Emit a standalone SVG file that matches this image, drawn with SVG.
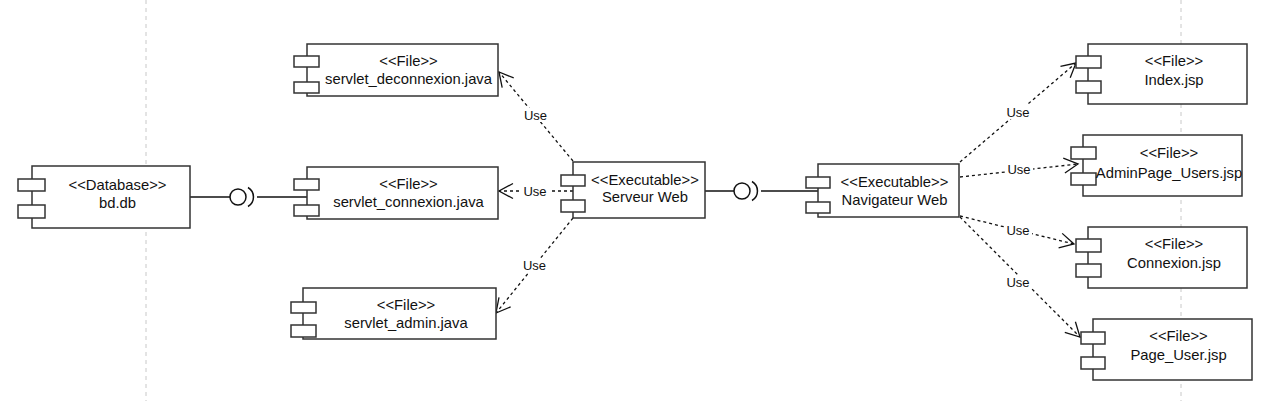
<svg xmlns="http://www.w3.org/2000/svg" width="1280" height="401" viewBox="0 0 1280 401">
<style>
.body{fill:#fff;stroke:#333;stroke-width:1.5}
.port{fill:#fff;stroke:#333;stroke-width:1.5}
.t{font-family:"Liberation Sans",Arial,sans-serif;font-size:14.8px;fill:#111;text-anchor:middle}
.lbl{font-family:"Liberation Sans",Arial,sans-serif;font-size:13px;fill:#111;text-anchor:middle}
.lblbg{fill:#fff}
.dep{fill:none;stroke:#111;stroke-width:1.3;stroke-dasharray:3,3;marker-end:url(#open)}
.solid{fill:none;stroke:#111;stroke-width:1.5}
.guide{stroke:#c8c8c8;stroke-width:1;stroke-dasharray:4,4}
</style>
<defs>
<marker id="open" viewBox="-16 -10 20 20" refX="0" refY="0" markerWidth="20" markerHeight="20" orient="auto" markerUnits="userSpaceOnUse">
<path d="M-14,-7.5 L0,0 L-14,7.5" fill="none" stroke="#111" stroke-width="1.3" stroke-dasharray="none"/>
</marker>
</defs>
<rect width="1280" height="401" fill="#fff"/>
<g id="guides">
<line class="guide" x1="146" y1="0" x2="146" y2="401"/>
<line class="guide" x1="1181" y1="0" x2="1181" y2="401"/>
</g>
<g id="connectors">
<line class="solid" x1="190" y1="197" x2="230" y2="197"/>
<circle class="solid" cx="238" cy="197" r="8"/>
<path class="solid" d="M248,187.5 A11 11 0 0 1 248,206.5"/>
<line class="solid" x1="257" y1="197" x2="307" y2="197"/>
<line class="solid" x1="705" y1="191" x2="734" y2="191"/>
<circle class="solid" cx="742" cy="191" r="8"/>
<path class="solid" d="M752,181.5 A11 11 0 0 1 752,200.5"/>
<line class="solid" x1="761" y1="191" x2="818" y2="191"/>
<line class="dep" x1="573" y1="161" x2="499" y2="72"/>
<line class="dep" x1="573" y1="191" x2="499" y2="191"/>
<line class="dep" x1="573" y1="218" x2="496" y2="313"/>
<line class="dep" x1="960" y1="162" x2="1076" y2="63"/>
<line class="dep" x1="960" y1="177" x2="1078" y2="164"/>
<line class="dep" x1="960" y1="216" x2="1074" y2="244"/>
<line class="dep" x1="960" y1="217" x2="1080" y2="337"/>
<rect class="lblbg" x="522" y="108" width="27" height="14"/>
<text class="lbl" x="535.5" y="120">Use</text>
<rect class="lblbg" x="521" y="184" width="28" height="14"/>
<text class="lbl" x="535" y="196">Use</text>
<rect class="lblbg" x="521" y="258" width="27" height="14"/>
<text class="lbl" x="534.5" y="270">Use</text>
<rect class="lblbg" x="1005" y="105" width="27" height="14"/>
<text class="lbl" x="1018" y="117">Use</text>
<rect class="lblbg" x="1006" y="162" width="27" height="14"/>
<text class="lbl" x="1019" y="174">Use</text>
<rect class="lblbg" x="1005" y="223" width="27" height="14"/>
<text class="lbl" x="1018" y="235">Use</text>
<rect class="lblbg" x="1005" y="276" width="27" height="13"/>
<text class="lbl" x="1018" y="287">Use</text>
</g>
<g id="bd_db">
<rect class="body" x="32" y="166" width="158" height="62"/>
<rect class="port" x="18" y="179" width="27" height="12"/>
<rect class="port" x="18" y="205" width="27" height="13"/>
<text class="t" x="117.5" y="190">&lt;&lt;Database&gt;&gt;</text>
<text class="t" x="117.5" y="208">bd.db</text>
</g>
<g id="servlet_deconnexion">
<rect class="body" x="307" y="44" width="191" height="52"/>
<rect class="port" x="294" y="56" width="25" height="11"/>
<rect class="port" x="294" y="82" width="25" height="11"/>
<text class="t" x="408.5" y="66">&lt;&lt;File&gt;&gt;</text>
<text class="t" x="408.5" y="84">servlet_deconnexion.java</text>
</g>
<g id="servlet_connexion">
<rect class="body" x="307" y="167" width="191" height="52"/>
<rect class="port" x="294" y="179" width="25" height="11"/>
<rect class="port" x="294" y="205" width="25" height="11"/>
<text class="t" x="408.5" y="189">&lt;&lt;File&gt;&gt;</text>
<text class="t" x="408.5" y="207">servlet_connexion.java</text>
</g>
<g id="servlet_admin">
<rect class="body" x="303" y="288" width="193" height="51"/>
<rect class="port" x="291" y="302" width="25" height="11"/>
<rect class="port" x="291" y="325" width="25" height="12"/>
<text class="t" x="406" y="310">&lt;&lt;File&gt;&gt;</text>
<text class="t" x="406" y="328">servlet_admin.java</text>
</g>
<g id="serveur_web">
<rect class="body" x="573" y="162" width="132" height="56"/>
<rect class="port" x="561" y="175" width="24" height="11"/>
<rect class="port" x="561" y="200" width="24" height="12"/>
<text class="t" x="645" y="185">&lt;&lt;Executable&gt;&gt;</text>
<text class="t" x="645" y="202">Serveur Web</text>
</g>
<g id="navigateur_web">
<rect class="body" x="818" y="164" width="141" height="53"/>
<rect class="port" x="806" y="177" width="24" height="11"/>
<rect class="port" x="806" y="202" width="24" height="11"/>
<text class="t" x="894.5" y="187">&lt;&lt;Executable&gt;&gt;</text>
<text class="t" x="894.5" y="205">Navigateur Web</text>
</g>
<g id="index_jsp">
<rect class="body" x="1088" y="44" width="159" height="60"/>
<rect class="port" x="1076" y="56" width="25" height="12"/>
<rect class="port" x="1076" y="81" width="25" height="12"/>
<text class="t" x="1174" y="66">&lt;&lt;File&gt;&gt;</text>
<text class="t" x="1174" y="85">Index.jsp</text>
</g>
<g id="adminpage_users_jsp">
<rect class="body" x="1083" y="135" width="159" height="61"/>
<rect class="port" x="1071" y="147" width="25" height="12"/>
<rect class="port" x="1071" y="173" width="25" height="12"/>
<text class="t" x="1169" y="158">&lt;&lt;File&gt;&gt;</text>
<text class="t" x="1169" y="178">AdminPage_Users.jsp</text>
</g>
<g id="connexion_jsp">
<rect class="body" x="1088" y="227" width="159" height="61"/>
<rect class="port" x="1076" y="239" width="25" height="13"/>
<rect class="port" x="1076" y="264" width="25" height="13"/>
<text class="t" x="1174" y="249">&lt;&lt;File&gt;&gt;</text>
<text class="t" x="1174" y="268">Connexion.jsp</text>
</g>
<g id="page_user_jsp">
<rect class="body" x="1093" y="319" width="159" height="61"/>
<rect class="port" x="1081" y="332" width="24" height="12"/>
<rect class="port" x="1081" y="357" width="24" height="12"/>
<text class="t" x="1178.5" y="341">&lt;&lt;File&gt;&gt;</text>
<text class="t" x="1178.5" y="360">Page_User.jsp</text>
</g>
</svg>
